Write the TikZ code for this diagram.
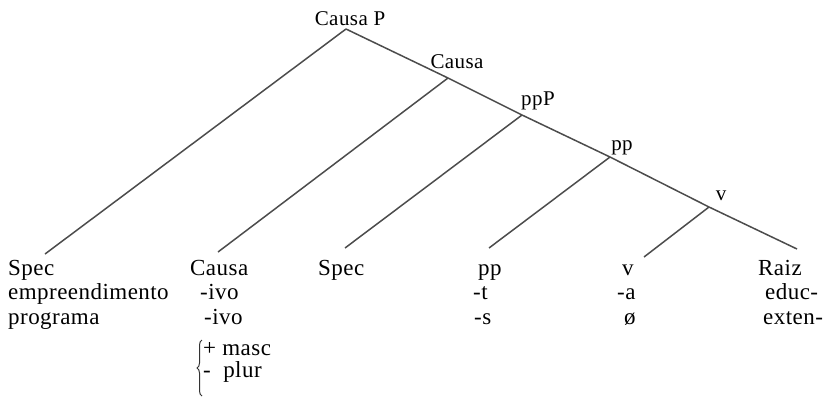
\documentclass[tikz,border=0pt]{standalone}
\usepackage{fontspec}
\setmainfont{Liberation Serif}
\newfontfamily\treefont[LetterSpace=2]{Liberation Serif}
\usetikzlibrary{decorations.pathreplacing}

\begin{document}
\begin{tikzpicture}[x=1pt,y=-1pt,
    branch/.style={draw=black!70, line width=1.5pt},
    lbl/.style={inner sep=0pt, anchor=base, font=\treefont\fontsize{21}{21}\selectfont},
    leaf/.style={inner sep=0pt, anchor=base west, font=\treefont\fontsize{23}{23}\selectfont}]
    \useasboundingbox (0,0) rectangle (826,397);

    % Junctions on the spine
    \coordinate (causaP) at (346,29);
    \coordinate (causa) at (448,78);
    \coordinate (ppP) at (522,115);
    \coordinate (pp) at (610,157);
    \coordinate (v) at (709,207);
    % Free ends of the branches
    \coordinate (specA-end) at (45,254);
    \coordinate (causa-end) at (218,252);
    \coordinate (specB-end) at (345,248);
    \coordinate (pp-end) at (489,248);
    \coordinate (v-end) at (644,257);
    \coordinate (raiz-end) at (797,249);

    % Labels of the inner nodes
    \node[lbl] (causaP-lbl) at (350,25) {Causa P};
    \node[lbl] (causa-lbl) at (457,68) {Causa};
    \node[lbl] (ppP-lbl) at (538,105) {ppP};
    \node[lbl] (pp-lbl) at (622,150) {pp};
    \node[lbl] (v-lbl) at (721,200) {v};

    % Spine
    \draw[branch] (causaP) -- (causa) -- (ppP) -- (pp) -- (v) -- (raiz-end);
    % Left branches
    \draw[branch] (causaP) -- (specA-end);
    \draw[branch] (causa) -- (causa-end);
    \draw[branch] (ppP) -- (specB-end);
    \draw[branch] (pp) -- (pp-end);
    \draw[branch] (v) -- (v-end);

    % Leaves
    \node[leaf] (specA) at (8,275) {Spec};
    \node[leaf] (specA-1) at (8,299.5) {empreendimento};
    \node[leaf] (specA-2) at (8,324) {programa};

    \node[leaf] (causa-leaf) at (190,275) {Causa};
    \node[leaf] (causa-1) at (200,299.5) {-ivo};
    \node[leaf] (causa-2) at (204,324) {-ivo};
    \node[leaf] (masc) at (203,355) {+ masc};
    \node[leaf] (plur) at (203,377) {-\ \ plur};
    \draw[black!80, line width=1pt, decorate, decoration={brace, amplitude=5pt}]
        (202,396) -- (202,340);

    \node[leaf] (specB) at (318,275) {Spec};

    \node[leaf] (pp-leaf) at (478,275) {pp};
    \node[leaf] (pp-1) at (473,299.5) {-t};
    \node[leaf] (pp-2) at (474,324) {-s};

    \node[leaf] (v-leaf) at (622,275) {v};
    \node[leaf] (v-1) at (617,299.5) {-a};
    \node[leaf] (v-2) at (624,324) {ø};

    \node[leaf] (raiz) at (758,275) {Raiz};
    \node[leaf] (raiz-1) at (765,299.5) {educ-};
    \node[leaf] (raiz-2) at (763,324) {exten-};
\end{tikzpicture}
\end{document}
